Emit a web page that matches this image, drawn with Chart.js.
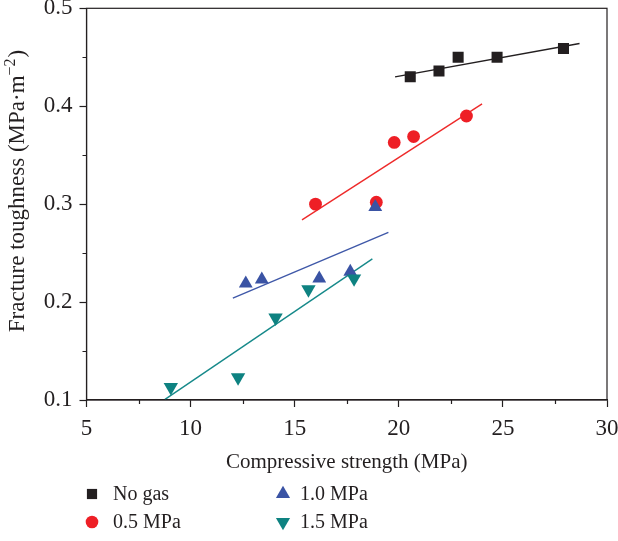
<!DOCTYPE html>
<html>
<head>
<meta charset="utf-8">
<script src="https://cdn.jsdelivr.net/npm/chart.js@4.4.1/dist/chart.umd.min.js"></script>
<style>
  html, body { margin: 0; padding: 0; background: #ffffff; }
  #wrap { width: 618px; height: 541px; position: relative; }
</style>
</head>
<body>
<div id="wrap"><canvas id="c" width="618" height="541"></canvas></div>
<script>
// Series labels
const seriesNames = ['No gas', '0.5 MPa', '1.0 MPa', '1.5 MPa'];

// Measured points: compressive strength (MPa) vs fracture toughness
const noGasX = [20.55, 21.93, 22.85, 24.72, 27.91];
const noGasY = [0.430, 0.436, 0.450, 0.450, 0.459];
const gas05X = [16.0, 18.92, 19.78, 20.71, 23.25];
const gas05Y = [0.300, 0.302, 0.363, 0.369, 0.390];
const gas10X = [12.65, 13.42, 16.18, 17.67, 18.87];
const gas10Y = [0.219, 0.223, 0.224, 0.231, 0.297];
const gas15X = [9.05, 12.28, 14.08, 15.66, 17.85];
const gas15Y = [0.113, 0.123, 0.184, 0.213, 0.224];

// Linear fit end points for each series
const fitNoGasX = [19.82, 28.68];
const fitNoGasY = [0.430, 0.464];
const fit05X = [15.35, 24.0];
const fit05Y = [0.284, 0.4024];
const fit10X = [12.03, 19.5];
const fit10Y = [0.204, 0.2712];
const fit15X = [8.77, 18.73];
const fit15Y = [0.1007, 0.2441];

// Axis ticks
const xTicks = [5, 10, 15, 20, 25, 30];
const xMinorTicks = [7.5, 12.5, 17.5, 22.5, 27.5];
const yTicks = [0.1, 0.2, 0.3, 0.4, 0.5];
const yMinorTicks = [0.15, 0.25, 0.35, 0.45];

// Axis titles
const xTitle = 'Compressive strength (MPa)';
const yTitleMain = 'Fracture toughness (MPa·m';
const yTitleSup = '−2';
const yTitleEnd = ')';

const colors = ['#231f20', '#ee1f26', '#3a53a4', '#0e8281'];
const lineColors = ['#231f20', '#ee2a2a', '#3f58a8', '#16898a'];
const INK = '#231f20';
const FONT = '"Liberation Serif", "Times New Roman", serif';

const pts = (xs, ys) => xs.map((x, i) => ({ x: x, y: ys[i] }));

const markerStyles = [
  { pointStyle: 'rect', radius: 7.8, rotation: 0 },
  { pointStyle: 'circle', radius: 6.4, rotation: 0 },
  { pointStyle: 'triangle', radius: 8.0, rotation: 0 },
  { pointStyle: 'triangle', radius: 8.3, rotation: 180 }
];

const scatterData = [pts(noGasX, noGasY), pts(gas05X, gas05Y), pts(gas10X, gas10Y), pts(gas15X, gas15Y)];
const fitData = [pts(fitNoGasX, fitNoGasY), pts(fit05X, fit05Y), pts(fit10X, fit10Y), pts(fit15X, fit15Y)];

const datasets = [];
scatterData.forEach((d, i) => {
  datasets.push({
    type: 'scatter',
    label: seriesNames[i],
    data: d,
    order: 4 - i,
    backgroundColor: colors[i],
    borderColor: colors[i],
    borderWidth: 0,
    pointStyle: markerStyles[i].pointStyle,
    pointRadius: markerStyles[i].radius,
    pointHoverRadius: markerStyles[i].radius,
    pointRotation: markerStyles[i].rotation,
    showLine: false
  });
});
fitData.forEach((d, i) => {
  datasets.push({
    type: 'line',
    label: seriesNames[i] + ' fit',
    data: d,
    order: 10 + i,
    borderColor: lineColors[i],
    borderWidth: 1.4,
    pointRadius: 0,
    fill: false,
    tension: 0
  });
});

// Frame, minor ticks, y title with superscript, and legend
const decorations = {
  id: 'decorations',
  afterDraw(chart) {
    const ctx = chart.ctx;
    const a = chart.chartArea;
    const xs = chart.scales.x, ys = chart.scales.y;
    ctx.save();
    ctx.strokeStyle = INK;
    ctx.lineWidth = 1.2;
    ctx.strokeRect(a.left, a.top, a.right - a.left, a.bottom - a.top);

    // minor ticks
    ctx.beginPath();
    xMinorTicks.forEach(v => {
      const px = Math.round(xs.getPixelForValue(v)) + 0.5;
      ctx.moveTo(px, a.bottom);
      ctx.lineTo(px, a.bottom + 4);
    });
    yMinorTicks.forEach(v => {
      const py = Math.round(ys.getPixelForValue(v)) + 0.5;
      ctx.moveTo(a.left, py);
      ctx.lineTo(a.left - 4, py);
    });
    ctx.stroke();

    // y axis title, rotated, with a raised exponent
    ctx.save();
    ctx.translate(16, 191);
    ctx.rotate(-Math.PI / 2);
    ctx.fillStyle = INK;
    ctx.textBaseline = 'alphabetic';
    ctx.textAlign = 'left';
    const mainFont = '23px ' + FONT;
    const supFont = '16px ' + FONT;
    ctx.font = mainFont;
    const w1 = ctx.measureText(yTitleMain).width;
    const w3 = ctx.measureText(yTitleEnd).width;
    ctx.font = supFont;
    const w2 = ctx.measureText(yTitleSup).width;
    const total = w1 + w2 + 1 + w3;
    let tx = -total / 2;
    const base = 7.5;
    ctx.font = mainFont;
    ctx.fillText(yTitleMain, tx, base);
    tx += w1;
    ctx.font = supFont;
    ctx.fillText(yTitleSup, tx, base - 8.5);
    tx += w2 + 1;
    ctx.font = mainFont;
    ctx.fillText(yTitleEnd, tx, base);
    ctx.restore();

    // legend
    const spots = [[92, 494], [92, 522], [283, 494], [283, 522]];
    const legendSizes = [7.2, 6.3, 8.2, 8.2];
    ctx.font = '20px ' + FONT;
    ctx.textBaseline = 'middle';
    ctx.textAlign = 'left';
    seriesNames.forEach((name, i) => {
      const [lx, ly] = spots[i];
      ctx.fillStyle = colors[i];
      ctx.strokeStyle = colors[i];
      Chart.helpers.drawPoint(ctx, {
        pointStyle: markerStyles[i].pointStyle,
        radius: legendSizes[i],
        rotation: markerStyles[i].rotation,
        borderWidth: 0
      }, lx, ly);
      ctx.fillStyle = INK;
      ctx.fillText(name, lx + (i < 2 ? 21 : 17), ly + 1);
    });
    ctx.restore();
  }
};

new Chart(document.getElementById('c'), {
  data: { datasets: datasets },
  options: {
    responsive: false,
    animation: false,
    layout: { padding: { left: 0, right: 11, top: 6.7, bottom: 66.4 } },
    plugins: { legend: { display: false }, tooltip: { enabled: false } },
    scales: {
      x: {
        type: 'linear',
        min: 5, max: 30,
        afterBuildTicks: s => { s.ticks = xTicks.map(v => ({ value: v })); },
        afterFit: s => { s.height = 74.6; s.paddingLeft = 0; s.paddingRight = 0; },
        ticks: { color: INK, font: { family: FONT, size: 23 }, padding: 8, maxRotation: 0, autoSkip: false },
        grid: { drawOnChartArea: false, drawTicks: true, tickLength: 7, tickWidth: 1.2, tickColor: INK },
        border: { display: true, color: INK, width: 1.2 },
        title: { display: true, text: xTitle, color: INK, font: { family: FONT, size: 21 }, padding: { top: 0, bottom: 0 } }
      },
      y: {
        type: 'linear',
        min: 0.1, max: 0.5,
        afterBuildTicks: s => { s.ticks = yTicks.map(v => ({ value: v })); },
        afterFit: s => { s.width = 86.5; s.paddingTop = 0; s.paddingBottom = 0; },
        ticks: { color: INK, font: { family: FONT, size: 23 }, padding: 7, callback: v => v.toFixed(1), autoSkip: false },
        grid: { drawOnChartArea: false, drawTicks: true, tickLength: 7, tickWidth: 1.2, tickColor: INK },
        border: { display: true, color: INK, width: 1.2 },
        title: { display: false }
      }
    }
  },
  plugins: [decorations]
});
</script>
</body>
</html>
